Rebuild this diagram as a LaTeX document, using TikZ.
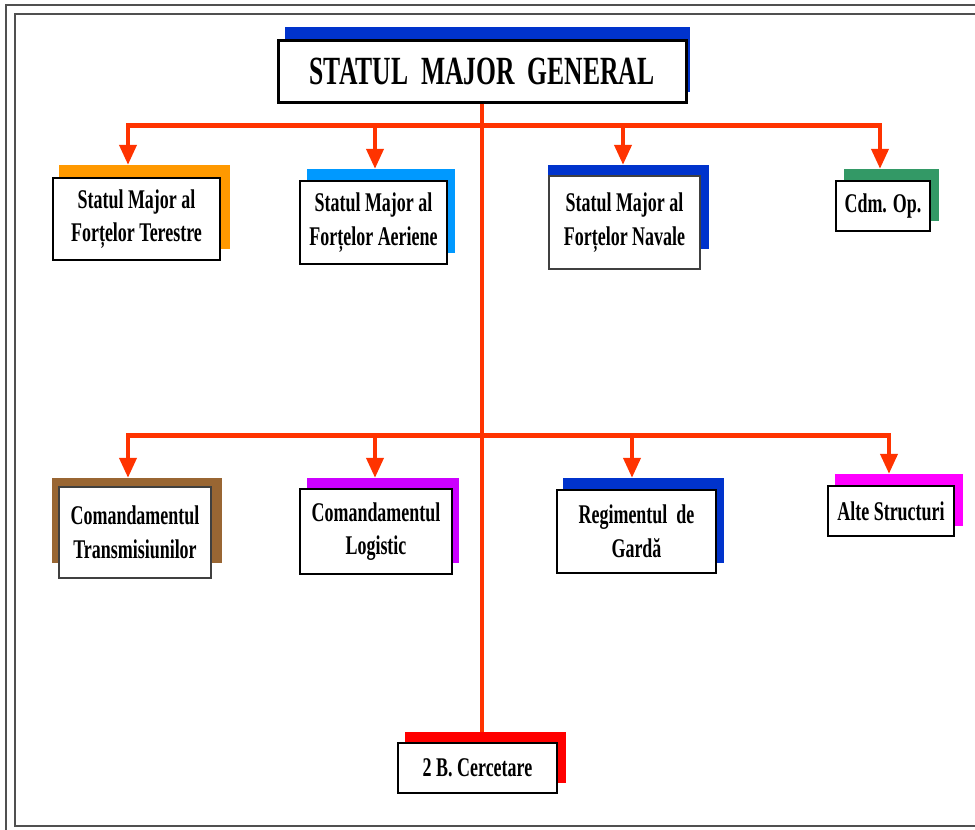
\documentclass[tikz,border=0pt]{standalone}
\usepackage{fontspec}
\usetikzlibrary{arrows.meta}
\newfontfamily\condb[FakeStretch=0.665,UprightFont={* Bold}]{Liberation Serif}
\newfontfamily\titleb[FakeStretch=0.64,UprightFont={* Bold}]{Liberation Serif}
\definecolor{cRed}{HTML}{FF3300}
\definecolor{cOrange}{HTML}{FF9900}
\definecolor{cSky}{HTML}{0099FF}
\definecolor{cBlue}{HTML}{0033CC}
\definecolor{cGreen}{HTML}{339966}
\definecolor{cBrown}{HTML}{996633}
\definecolor{cPurple}{HTML}{CC00FF}
\definecolor{cMagenta}{HTML}{FF00FF}
\definecolor{cPure}{HTML}{FF0000}
\definecolor{cFrame}{HTML}{505050}
\tikzset{
  orgbox/.style={draw=black, line width=2.6pt, fill=white, align=center, inner sep=0pt,
    font=\condb\fontsize{27}{33.5}\selectfont},
  thinbox/.style={orgbox, draw=black!75, line width=1.4pt},
  shd/.style={inner sep=0pt, draw=none},
  bus/.style={draw=cRed, line width=5pt},
  drop/.style={draw=cRed, line width=4pt, -{Triangle[width=17pt,length=20pt]}},
  trunk/.style={draw=cRed, line width=4pt},
  framestyle/.style={draw=cFrame, line width=2pt}
}
\begin{document}
\begin{tikzpicture}[x=1pt,y=-1pt]
\useasboundingbox (0,0) rectangle (975,830);
% frames
\begin{scope}
\clip (0,0) rectangle (975,830);
\draw[framestyle] (6,5) rectangle (1000,860);
\draw[framestyle] (15,14) rectangle (1000,826);
\end{scope}
% shadows
\node[shd, fill=cBlue, minimum width=405pt, minimum height=65pt] (s0) at (487.5,59.5) {};
\node[shd, fill=cOrange, minimum width=171pt, minimum height=84pt] (s1) at (144.5,207) {};
\node[shd, fill=cSky, minimum width=148pt, minimum height=84pt] (s2) at (381,211) {};
\node[shd, fill=cBlue, minimum width=161pt, minimum height=84pt] (s3) at (628.5,207) {};
\node[shd, fill=cGreen, minimum width=95pt, minimum height=52pt] (s4) at (891.5,195) {};
\node[shd, fill=cBrown, minimum width=170pt, minimum height=85pt] (s5) at (137,520.5) {};
\node[shd, fill=cPurple, minimum width=152pt, minimum height=85pt] (s6) at (383,520.5) {};
\node[shd, fill=cBlue, minimum width=161pt, minimum height=85pt] (s7) at (643.5,520.5) {};
\node[shd, fill=cMagenta, minimum width=128pt, minimum height=52pt] (s8) at (899,500) {};
\node[shd, fill=cPure, minimum width=161pt, minimum height=51pt] (s9) at (485.5,757.5) {};
% boxes
\node[orgbox, line width=3pt, minimum width=408pt, minimum height=62pt,
  font=\titleb\fontsize{40}{44}\selectfont] (top) at (482,71) {STATUL~~MAJOR~~GENERAL};
\node[orgbox, minimum width=167pt, minimum height=82pt] (b1) at (136.5,219) {Statul Major al\\Forțelor Terestre};
\node[orgbox, minimum width=147pt, minimum height=83pt] (b2) at (373.5,222.5) {Statul Major al\\Forțelor Aeriene};
\node[thinbox, minimum width=151pt, minimum height=93pt] (b3) at (624.5,222.5) {Statul Major al\\Forțelor Navale};
\node[orgbox, minimum width=94pt, minimum height=50pt] (b4) at (883,206) {Cdm. Op.};
\node[thinbox, minimum width=152pt, minimum height=91pt] (b5) at (135,532.5) {Comandamentul\\Transmisiunilor};
\node[orgbox, minimum width=152pt, minimum height=85pt] (b6) at (376,531.5) {Comandamentul\\Logistic};
\node[orgbox, minimum width=159pt, minimum height=83pt] (b7) at (636.5,531.5) {Regimentul~~de\\Gardă};
\node[orgbox, minimum width=126pt, minimum height=50pt] (b8) at (891,511) {Alte Structuri};
\node[orgbox, minimum width=159pt, minimum height=50pt] (b9) at (477.5,768) {2 B. Cercetare};
% bus coordinates
\coordinate (t1) at (128,125);
\coordinate (t2) at (375,125);
\coordinate (t3) at (623,125);
\coordinate (t4) at (880,125);
\coordinate (u1) at (128,435);
\coordinate (u2) at (375,435);
\coordinate (u3) at (632,435);
\coordinate (u4) at (889,435);
% connectors
\draw[trunk] (top.south) -- (top.south |- s9.north);
\draw[bus] ([xshift=-2pt]t1) -- ([xshift=2pt]t4);
\draw[bus] ([xshift=-2pt]u1) -- ([xshift=2pt]u4);
\draw[drop] ([yshift=-2pt]t1) -- (t1 |- s1.north);
\draw[drop] ([yshift=-2pt]t2) -- (t2 |- s2.north);
\draw[drop] ([yshift=-2pt]t3) -- (t3 |- s3.north);
\draw[drop] ([yshift=-2pt]t4) -- (t4 |- s4.north);
\draw[drop] ([yshift=-2pt]u1) -- (u1 |- s5.north);
\draw[drop] ([yshift=-2pt]u2) -- (u2 |- s6.north);
\draw[drop] ([yshift=-2pt]u3) -- (u3 |- s7.north);
\draw[drop] ([yshift=-2pt]u4) -- (u4 |- s8.north);
\end{tikzpicture}
\end{document}
